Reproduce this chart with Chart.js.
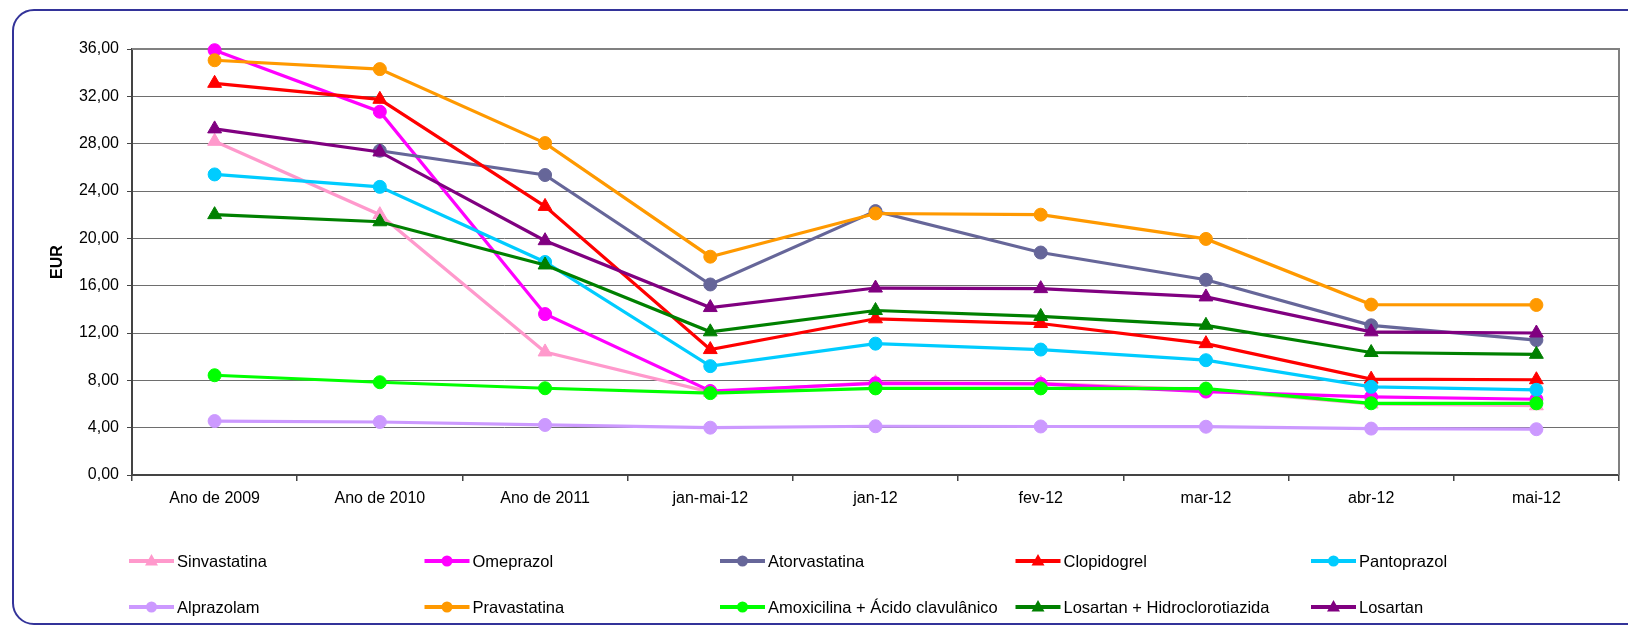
<!DOCTYPE html>
<html>
<head>
<meta charset="utf-8">
<script src="https://cdn.jsdelivr.net/npm/chart.js@4.4.0/dist/chart.umd.min.js"></script>
<style>
  html, body { margin: 0; padding: 0; background: #fff; }
  #wrap { position: relative; width: 1628px; height: 629px; overflow: hidden; }
  #frame { position: absolute; left: 12px; top: 9px; width: 1640px; height: 616px;
           border: 2px solid #333399; border-radius: 22px; box-sizing: border-box; }
  canvas { position: absolute; left: 0; top: 0; }
</style>
</head>
<body>
<div id="wrap">
  <div id="frame"></div>
  <canvas id="chart" width="1628" height="629"></canvas>
</div>
<script>
const categories = ["Ano de 2009", "Ano de 2010", "Ano de 2011", "jan-mai-12", "jan-12", "fev-12", "mar-12", "abr-12", "mai-12"]

const sinvastatina  = [28.2, 22.0, 10.4, 7.0, 7.8, 7.75, 7.2, 6.0, 5.85]
const omeprazol     = [35.9, 30.7, 13.6, 7.1, 7.75, 7.7, 7.05, 6.6, 6.4]
const atorvastatina = [null, 27.4, 25.35, 16.1, 22.3, 18.8, 16.5, 12.65, 11.4]
const clopidogrel   = [33.1, 31.75, 22.7, 10.6, 13.2, 12.8, 11.1, 8.1, 8.05]
const pantoprazol   = [25.4, 24.35, 18.0, 9.2, 11.1, 10.6, 9.7, 7.45, 7.2]
const alprazolam    = [4.56, 4.48, 4.23, 4.0, 4.12, 4.1, 4.08, 3.92, 3.87]
const pravastatina  = [35.05, 34.3, 28.05, 18.45, 22.1, 22.0, 19.95, 14.4, 14.37]
const amoxicilina   = [8.43, 7.84, 7.33, 6.92, 7.32, 7.32, 7.3, 6.06, 6.06]
const losartanHct   = [22.0, 21.4, 17.75, 12.1, 13.9, 13.4, 12.65, 10.35, 10.2]
const losartan      = [29.25, 27.3, 19.8, 14.15, 15.8, 15.75, 15.05, 12.1, 12.0]

const series = [
  { label: "Sinvastatina", data: sinvastatina, color: "#FF99CC", marker: "triangle" },
  { label: "Omeprazol", data: omeprazol, color: "#FF00FF", marker: "circle" },
  { label: "Atorvastatina", data: atorvastatina, color: "#666699", marker: "circle" },
  { label: "Clopidogrel", data: clopidogrel, color: "#FF0000", marker: "triangle" },
  { label: "Pantoprazol", data: pantoprazol, color: "#00CCFF", marker: "circle" },
  { label: "Alprazolam", data: alprazolam, color: "#CC99FF", marker: "circle" },
  { label: "Pravastatina", data: pravastatina, color: "#FF9900", marker: "circle" },
  { label: "Amoxicilina + Ácido clavulânico", data: amoxicilina, color: "#00FF00", marker: "circle" },
  { label: "Losartan + Hidroclorotiazida", data: losartanHct, color: "#008000", marker: "triangle" },
  { label: "Losartan", data: losartan, color: "#800080", marker: "triangle" },
]

const FONT = "'Liberation Sans', Arial, sans-serif"
Chart.defaults.font.family = FONT
Chart.defaults.color = '#000'

// legend in 5 columns like the Excel one
const gridLegend = {
  id: 'gridLegend',
  afterDraw(chart) {
    const ctx = chart.ctx
    ctx.save()
    series.forEach((s, i) => {
      const x0 = 129 + (i % 5) * 295.5
      const y = 561 + Math.floor(i / 5) * 46
      ctx.strokeStyle = s.color
      ctx.lineWidth = 4
      ctx.beginPath()
      ctx.moveTo(x0, y)
      ctx.lineTo(x0 + 45, y)
      ctx.stroke()
      ctx.fillStyle = s.color
      ctx.beginPath()
      if (s.marker === 'circle') {
        ctx.arc(x0 + 22.5, y, 5.5, 0, Math.PI * 2)
      } else {
        ctx.moveTo(x0 + 22.5, y - 7)
        ctx.lineTo(x0 + 29, y + 4.5)
        ctx.lineTo(x0 + 16, y + 4.5)
        ctx.closePath()
      }
      ctx.fill()
      ctx.fillStyle = '#000'
      ctx.font = '16.5px ' + FONT
      ctx.textBaseline = 'middle'
      ctx.textAlign = 'left'
      ctx.fillText(s.label, x0 + 48, y + 1)
    })
    ctx.restore()
  }
}

// gray frame on top and right of the plot area
const plotFrame = {
  id: 'plotFrame',
  beforeDatasetsDraw(chart) {
    const { ctx, chartArea: a } = chart
    ctx.save()
    ctx.strokeStyle = '#808080'
    ctx.lineWidth = 2
    ctx.beginPath()
    ctx.moveTo(a.left, a.top)
    ctx.lineTo(a.right, a.top)
    ctx.lineTo(a.right, a.bottom)
    ctx.stroke()
    ctx.restore()
  }
}

const ctx = document.getElementById('chart').getContext('2d')
new Chart(ctx, {
  type: 'line',
  data: {
    labels: categories,
    datasets: series.map((s, i) => ({
      label: s.label,
      data: s.data,
      borderColor: s.color,
      backgroundColor: s.color,
      borderWidth: 3.2,
      pointStyle: s.marker,
      pointRadius: s.marker === 'circle' ? 6.5 : 8,
      pointBorderWidth: 1,
      pointBackgroundColor: s.color,
      pointBorderColor: s.color,
      tension: 0,
      clip: false,
      order: series.length - i
    }))
  },
  options: {
    responsive: false,
    animation: false,
    layout: { padding: { left: 0, top: 49, right: 2, bottom: 0 } },
    plugins: {
      legend: { display: false },
      tooltip: { enabled: false }
    },
    scales: {
      x: {
        offset: true,
        grid: { offset: true, drawOnChartArea: false, tickLength: 6, tickColor: '#444', lineWidth: 1.5 },
        border: { color: '#444', width: 2 },
        ticks: { font: { size: 16 }, color: '#000', padding: 8, maxRotation: 0, autoSkip: false },
        afterFit(scale) { scale.height = 154 }
      },
      y: {
        min: 0,
        max: 36,
        grid: { color: '#6e6e6e', lineWidth: 1, tickLength: 5, tickColor: '#444' },
        border: { color: '#444', width: 2 },
        ticks: {
          stepSize: 4,
          font: { size: 16 },
          color: '#000',
          padding: 8,
          callback: v => v.toFixed(2).replace('.', ',')
        },
        title: {
          display: true,
          text: 'EUR',
          font: { size: 16, weight: 'bold' },
          color: '#000',
          padding: { top: 48, bottom: 0 }
        },
        afterFit(scale) { scale.width = 132 }
      }
    }
  },
  plugins: [plotFrame, gridLegend]
})
</script>
</body>
</html>
